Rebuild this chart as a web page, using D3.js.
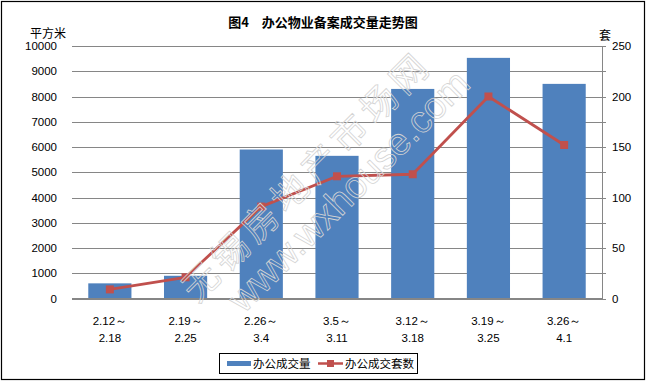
<!DOCTYPE html>
<html>
<head>
<meta charset="utf-8">
<script src="https://cdn.jsdelivr.net/npm/d3@7"></script>
<style>
  body { margin: 0; background: #fff; }
  svg { display: block; }
  text { font-family: "Liberation Sans", Arial, sans-serif; fill: #000; }
  .cjk { font-family: "Noto Sans CJK SC", sans-serif; }
  .wm text { fill: none; stroke: #d4d4d4; stroke-width: 0.8; }
</style>
</head>
<body>
<svg width="647" height="382"></svg>
<script>
// data
const weeksTop = ["2.12～", "2.19～", "2.26～", "3.5～", "3.12～", "3.19～", "3.26～"];
const weeksBottom = ["2.18", "2.25", "3.4", "3.11", "3.18", "3.25", "4.1"];
const area = [600, 900, 5900, 5650, 8300, 9530, 8500];   // 办公成交量, 平方米
const units = [9, 21, 91, 121, 123, 200, 152];           // 办公成交套数, 套
const leftTicks = d3.range(0, 10001, 1000);
const rightTicks = d3.range(0, 251, 50);

const blue = "#4F81BD";
const red = "#C0504D";

let svg = d3.select("svg");

// outer frame
svg.append("rect")
    .attr("x", 1.5).attr("y", 1.5)
    .attr("width", 643).attr("height", 378)
    .attr("fill", "#fff")
    .attr("stroke", "#000")
    .attr("stroke-width", 1.2);

let plotL = 72, plotR = 602, plotT = 46, plotB = 298.5;

let x = d3.scaleBand()
    .domain(weeksTop)
    .range([plotL, plotR])
    .paddingInner(0.43)
    .paddingOuter(0.215);

let y = d3.scaleLinear().domain([0, 10000]).range([plotB, plotT]);
let y2 = d3.scaleLinear().domain([0, 250]).range([plotB, plotT]);

// gridlines
svg.append("g")
    .selectAll("line")
    .data(leftTicks)
    .enter()
    .append("line")
    .attr("x1", plotL).attr("x2", plotR + 4)
    .attr("y1", d => Math.round(y(d)) + 0.5)
    .attr("y2", d => Math.round(y(d)) + 0.5)
    .attr("stroke", "#868686")
    .attr("stroke-width", 1);

// left labels
svg.append("g")
    .selectAll("text")
    .data(leftTicks)
    .enter()
    .append("text")
    .attr("x", 57)
    .attr("y", d => y(d))
    .attr("dy", "0.35em")
    .attr("text-anchor", "end")
    .attr("font-size", 11.5)
    .text(d => d);

// right axis
svg.append("line")
    .attr("x1", plotR + 0.5).attr("x2", plotR + 0.5)
    .attr("y1", plotT).attr("y2", plotB + 0.5)
    .attr("stroke", "#868686");

svg.append("g")
    .selectAll("text")
    .data(rightTicks)
    .enter()
    .append("text")
    .attr("x", 612)
    .attr("y", d => y2(d))
    .attr("dy", "0.35em")
    .attr("font-size", 11.5)
    .text(d => d);

// bars
svg.append("g")
    .selectAll("rect")
    .data(area)
    .enter()
    .append("rect")
    .attr("x", (d, i) => x(weeksTop[i]))
    .attr("y", d => y(d))
    .attr("width", x.bandwidth())
    .attr("height", d => plotB - y(d))
    .attr("fill", blue);

// baseline
svg.append("line")
    .attr("x1", plotL).attr("x2", plotR)
    .attr("y1", plotB).attr("y2", plotB)
    .attr("stroke", "#868686");

// line series
let cx = i => x(weeksTop[i]) + x.bandwidth() / 2;
let line = d3.line()
    .x((d, i) => cx(i))
    .y(d => y2(d));

svg.append("path")
    .datum(units)
    .attr("d", line)
    .attr("fill", "none")
    .attr("stroke", red)
    .attr("stroke-width", 2.8)
    .attr("stroke-linejoin", "round");

svg.append("g")
    .selectAll("rect")
    .data(units)
    .enter()
    .append("rect")
    .attr("x", (d, i) => cx(i) - 4)
    .attr("y", d => y2(d) - 4)
    .attr("width", 8)
    .attr("height", 8)
    .attr("fill", red);

// category labels
let cats = svg.append("g").attr("font-size", 11.5).attr("text-anchor", "middle");
weeksTop.forEach((w, i) => {
    cats.append("text").attr("x", cx(i)).attr("y", 325).text(w);
    cats.append("text").attr("x", cx(i)).attr("y", 342).text(weeksBottom[i]);
});

// titles
svg.append("text")
    .attr("class", "cjk")
    .attr("x", 323).attr("y", 27)
    .attr("text-anchor", "middle")
    .attr("font-size", 13)
    .attr("font-weight", "bold")
    .text("图4　办公物业备案成交量走势图");

svg.append("text")
    .attr("class", "cjk")
    .attr("x", 30).attr("y", 38)
    .attr("font-size", 12)
    .text("平方米");

svg.append("text")
    .attr("class", "cjk")
    .attr("x", 599).attr("y", 40)
    .attr("font-size", 12)
    .text("套");

// legend
let lg = svg.append("g");
lg.append("rect")
    .attr("x", 219.5).attr("y", 353.5)
    .attr("width", 198).attr("height", 20)
    .attr("fill", "#fff")
    .attr("stroke", "#000");
lg.append("rect")
    .attr("x", 227).attr("y", 361)
    .attr("width", 24).attr("height", 5)
    .attr("fill", blue);
lg.append("text")
    .attr("class", "cjk")
    .attr("x", 253).attr("y", 368)
    .attr("font-size", 11.5)
    .text("办公成交量");
lg.append("line")
    .attr("x1", 318).attr("x2", 343)
    .attr("y1", 363.5).attr("y2", 363.5)
    .attr("stroke", red)
    .attr("stroke-width", 2.5);
lg.append("rect")
    .attr("x", 327).attr("y", 360)
    .attr("width", 7).attr("height", 7)
    .attr("fill", red);
lg.append("text")
    .attr("class", "cjk")
    .attr("x", 345).attr("y", 368)
    .attr("font-size", 11.5)
    .text("办公成交套数");

// watermark
let wm = svg.append("g")
    .attr("class", "wm")
    .attr("text-anchor", "middle");
wm.append("text")
    .attr("class", "cjk")
    .attr("transform", "translate(316,185) rotate(-45)")
    .attr("font-size", 36)
    .attr("letter-spacing", 6)
    .text("无锡房地产市场网");
wm.append("text")
    .attr("transform", "translate(358,200) rotate(-45)")
    .attr("font-size", 38)
    .text("www.wxhouse.com");
</script>
</body>
</html>
